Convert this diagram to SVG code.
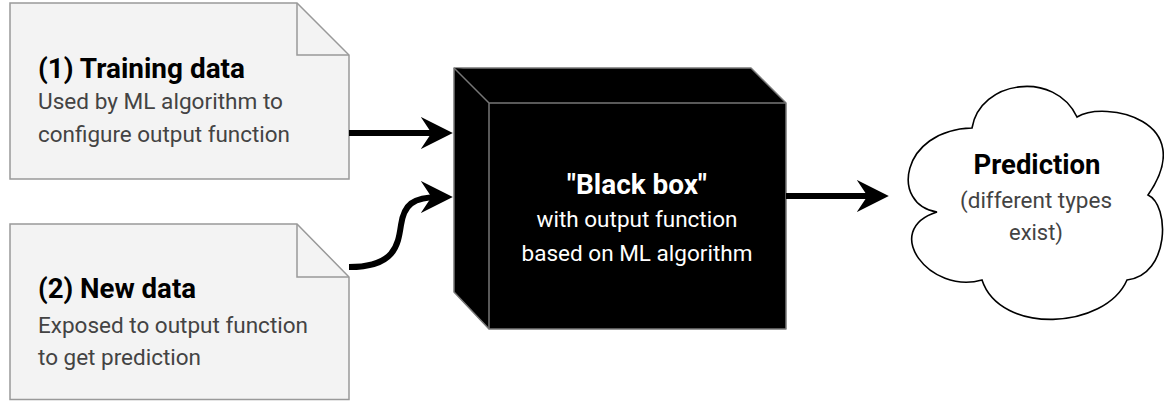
<svg xmlns="http://www.w3.org/2000/svg" width="1164" height="401" viewBox="0 0 1164 401">
  <defs>
    <style>
      .doc { fill: #f3f3f3; stroke: #999999; stroke-width: 1.5; }
      .fold { fill: none; stroke: #999999; stroke-width: 1.5; }
      .box { fill: #000000; stroke: #777777; stroke-width: 1.5; stroke-linejoin: round; }
      .cloud { fill: #ffffff; stroke: #000000; stroke-width: 1.6; }
      .conn { fill: none; stroke: #000000; stroke-width: 6; }
      text { font-family: Roboto, "Liberation Sans", sans-serif; }
      .title { font-weight: bold; font-size: 27.5px; fill: #000000; }
      .sub { font-size: 22px; fill: #434343; }
      .wtitle { font-weight: bold; font-size: 27px; fill: #ffffff; }
      .wsub { font-size: 22px; fill: #ffffff; }
    </style>
    <marker id="head" markerUnits="userSpaceOnUse" markerWidth="32" markerHeight="32" refX="18" refY="15" orient="auto" viewBox="0 0 30 30">
      <path d="M0,0 L30,15 L0,30 L10,15 Z" fill="#000000"/>
    </marker>
  </defs>

  <g id="training-data">
    <path class="doc" d="M10,3 L297,3 L349,55 L349,179 L10,179 Z"/>
    <path class="fold" d="M297,3 L297,55 L349,55"/>
    <text class="title" x="38" y="78" textLength="207" lengthAdjust="spacingAndGlyphs">(1) Training data</text>
    <text class="sub" x="38" y="109" textLength="245" lengthAdjust="spacingAndGlyphs">Used by ML algorithm to</text>
    <text class="sub" x="38" y="142" textLength="252" lengthAdjust="spacingAndGlyphs">configure output function</text>
  </g>

  <g id="new-data">
    <path class="doc" d="M10,224 L297,224 L349,277 L349,399.5 L10,399.5 Z"/>
    <path class="fold" d="M297,224 L297,277 L349,277"/>
    <text class="title" x="38" y="298" textLength="158" lengthAdjust="spacingAndGlyphs">(2) New data</text>
    <text class="sub" x="38" y="333" textLength="270" lengthAdjust="spacingAndGlyphs">Exposed to output function</text>
    <text class="sub" x="38" y="365" textLength="163" lengthAdjust="spacingAndGlyphs">to get prediction</text>
  </g>

  <g id="black-box">
    <path class="box" d="M454,68 L751,68 L786,103 L786,329 L489,329 L454,292 Z"/>
    <path class="box" d="M454,68 L489,103 L786,103 M489,103 L489,329"/>
    <text class="wtitle" x="637" y="194" text-anchor="middle" textLength="140" lengthAdjust="spacingAndGlyphs">"Black box"</text>
    <text class="wsub" x="637" y="227" text-anchor="middle" textLength="201" lengthAdjust="spacingAndGlyphs">with output function</text>
    <text class="wsub" x="637" y="261" text-anchor="middle" textLength="231" lengthAdjust="spacingAndGlyphs">based on ML algorithm</text>
  </g>

  <g id="prediction">
    <path class="cloud" d="M972,128 C980,80 1055,70 1077,117 C1105,100 1200,120 1148,195 C1170,205 1170,275 1127,280 C1105,330 1000,335 982,280 C930,295 880,230 937,212 C890,205 900,130 972,128 Z"/>
    <text class="title" x="1037" y="174" text-anchor="middle" textLength="127" lengthAdjust="spacingAndGlyphs">Prediction</text>
    <text class="sub" x="1036" y="208" text-anchor="middle" textLength="152" lengthAdjust="spacingAndGlyphs">(different types</text>
    <text class="sub" x="1036" y="240" text-anchor="middle" textLength="54" lengthAdjust="spacingAndGlyphs">exist)</text>
  </g>

  <g id="connectors">
    <path class="conn" d="M349,133 L440,133" marker-end="url(#head)"/>
    <path class="conn" d="M349,267 C395,267 398,245 401,225 C404,205 412,197 440,197" marker-end="url(#head)"/>
    <path class="conn" d="M786,196 L876,196" marker-end="url(#head)"/>
  </g>
</svg>
